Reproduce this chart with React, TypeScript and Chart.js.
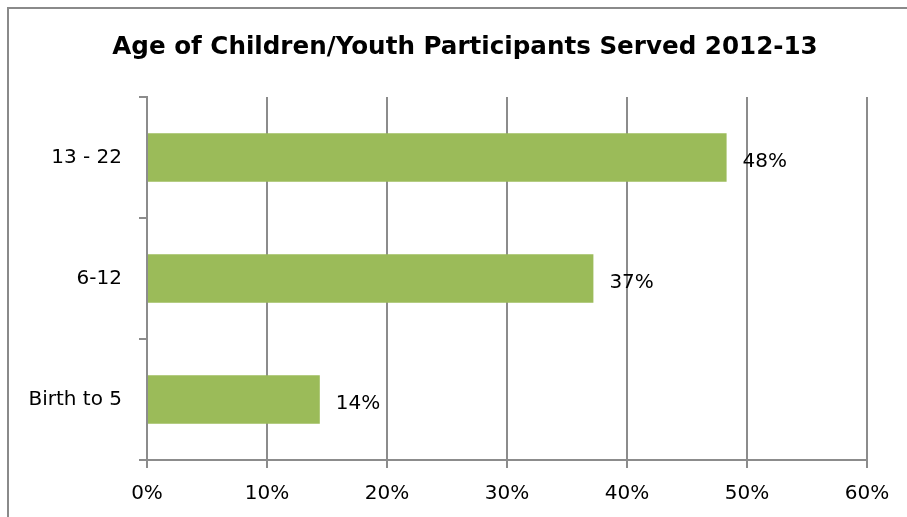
import React, { useEffect, useRef } from "react";
import { Chart, registerables } from "chart.js";

Chart.register(...registerables);

const TITLE = "Age of Children/Youth Participants Served 2012-13";
const categories = ["13 - 22", "6-12", "Birth to 5"];
const values = [48.3, 37.2, 14.4];
const valueLabels = ["48%", "37%", "14%"];
const xTicks = [0, 10, 20, 30, 40, 50, 60];

const FONT = "'DejaVu Sans'";
const GRID = "#8c8c8c";

const framePlugin = {
  id: "frame",
  beforeDraw(chart: any) {
    const ctx = chart.ctx;
    ctx.save();
    ctx.fillStyle = "#ffffff";
    ctx.fillRect(0, 0, chart.width, chart.height);
    ctx.strokeStyle = "#8a8a8a";
    ctx.lineWidth = 2;
    ctx.beginPath();
    ctx.moveTo(8, chart.height);
    ctx.lineTo(8, 8);
    ctx.lineTo(chart.width, 8);
    ctx.stroke();
    ctx.fillStyle = "#000000";
    ctx.font = `bold 24.6px ${FONT}`;
    ctx.textAlign = "center";
    ctx.textBaseline = "middle";
    ctx.fillText(TITLE, 465, 48);
    ctx.restore();
  },
};

const labelPlugin = {
  id: "valueLabels",
  afterDatasetsDraw(chart: any) {
    const ctx = chart.ctx;
    const meta = chart.getDatasetMeta(0);
    ctx.save();
    ctx.fillStyle = "#000000";
    ctx.font = `20px ${FONT}`;
    ctx.textAlign = "left";
    ctx.textBaseline = "middle";
    meta.data.forEach((bar: any, i: number) => {
      ctx.fillText(valueLabels[i], bar.x + 16, bar.y + 4);
    });
    ctx.restore();
  },
};

export default function App() {
  const ref = useRef<HTMLCanvasElement>(null);
  useEffect(() => {
    const chart = new Chart(ref.current!, {
      type: "bar",
      data: {
        labels: categories,
        datasets: [
          {
            data: values,
            backgroundColor: "#9bbb59",
            borderWidth: 0,
            barPercentage: 0.4,
            categoryPercentage: 1,
          },
        ],
      },
      options: {
        indexAxis: "y",
        animation: false,
        responsive: false,
        maintainAspectRatio: false,
        layout: { padding: { top: 97, right: 40, left: 0, bottom: 0 } },
        plugins: { legend: { display: false }, tooltip: { enabled: false }, title: { display: false } },
        scales: {
          x: {
            min: 0,
            max: 60,
            afterFit(scale: any) {
              scale.height = 57;
            },
            afterBuildTicks(scale: any) {
              scale.ticks = xTicks.map((v) => ({ value: v }));
            },
            ticks: {
              color: "#000",
              font: { family: FONT, size: 20 },
              padding: 14,
              maxRotation: 0,
              callback: (v: any) => v + "%",
            },
            grid: { color: GRID, lineWidth: 2, tickLength: 8, drawTicks: true },
            border: { color: GRID, width: 2 },
          },
          y: {
            afterFit(scale: any) {
              scale.width = 147;
            },
            ticks: {
              color: "#000",
              font: { family: FONT, size: 20 },
              padding: 17,
            },
            grid: { drawOnChartArea: false, drawTicks: true, tickLength: 8, offset: true, color: GRID, lineWidth: 2 },
            border: { color: GRID, width: 2 },
          },
        },
      },
      plugins: [framePlugin, labelPlugin],
    });
    return () => chart.destroy();
  }, []);
  return (
    <div style={{ position: "fixed", left: 0, top: 0, width: 907, height: 517 }}>
      <canvas ref={ref} width={907} height={517} style={{ display: "block", width: 907, height: 517 }} />
    </div>
  );
}
